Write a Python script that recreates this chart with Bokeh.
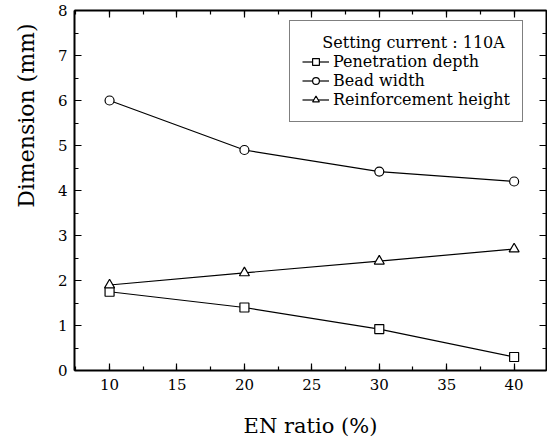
from bokeh.plotting import figure
from bokeh.models import (LinearAxis, FixedTicker, Legend, LegendItem, Range1d,
                          CustomLabelingPolicy, Title)
from bokeh.embed import file_html
from bokeh.resources import INLINE

# EN ratio (%) and measured bead dimensions (mm) at 110 A
en_ratio = [10, 20, 30, 40]
penetration_depth = [1.75, 1.40, 0.92, 0.30]
bead_width = [6.00, 4.90, 4.42, 4.20]
reinforcement_height = [1.90, 2.17, 2.43, 2.70]

x_ticks = [10, 15, 20, 25, 30, 35, 40]
y_ticks = [0, 1, 2, 3, 4, 5, 6, 7, 8]

FONT = "DejaVu Serif"
NB = "\u00a0"

p = figure(width=547, height=440, output_backend="svg", toolbar_location=None,
           x_range=Range1d(7.4, 42.4), y_range=Range1d(0, 8),
           min_border_left=71, min_border_right=1, min_border_top=10, min_border_bottom=70,
           background_fill_color="white", border_fill_color="white")
p.grid.visible = False
p.outline_line_color = None

x_ticker = FixedTicker(ticks=x_ticks, minor_ticks=[7.5 + 2.5 * i for i in range(14)])
y_ticker = FixedTicker(ticks=y_ticks, minor_ticks=[0.5 * i for i in range(17)])

# top/right frame axes carry ticks only
no_labels = CustomLabelingPolicy(
    code="for (const i of Array.from(indices)) { indices.unset(i) } return indices")

def style_axis(ax, labels=True):
    ax.axis_line_width = 2
    ax.axis_line_color = "black"
    ax.major_tick_in = 7
    ax.major_tick_out = 0
    ax.minor_tick_in = 4
    ax.minor_tick_out = 0
    ax.major_tick_line_width = 1.2
    ax.minor_tick_line_width = 1.2
    ax.major_tick_line_color = "black"
    ax.minor_tick_line_color = "black"
    ax.major_label_text_font = FONT
    ax.major_label_text_font_size = "15px"
    ax.major_label_text_color = "black"
    ax.axis_label_text_font = FONT
    ax.axis_label_text_font_style = "normal"
    ax.axis_label_text_color = "black"
    if not labels:
        ax.major_label_policy = no_labels
        ax.major_label_text_font_size = "0px"
        ax.major_label_standoff = 0
        ax.axis_label_standoff = 0

p.xaxis.ticker = x_ticker
p.yaxis.ticker = y_ticker
style_axis(p.xaxis[0])
style_axis(p.yaxis[0])
p.xaxis.major_label_standoff = 8
p.yaxis.major_label_standoff = 7

p.xaxis.axis_label = "EN ratio (%)"
p.xaxis.axis_label_text_font_size = "21px"
p.xaxis.axis_label_standoff = 21

# y title hangs from the top of the left margin, above the frame's middle
p.add_layout(Title(text="Dimension (mm)", align="right", offset=13,
                   vertical_align="top", standoff=27,
                   text_font=FONT, text_font_size="22px", text_font_style="normal",
                   text_color="black"), "left")

top_axis = LinearAxis(ticker=x_ticker)
right_axis = LinearAxis(ticker=y_ticker)
style_axis(top_axis, labels=False)
style_axis(right_axis, labels=False)
p.add_layout(top_axis, "above")
p.add_layout(right_axis, "right")

common = dict(line_color="black", line_width=1.2)
mk = dict(fill_color="white", line_color="black", line_width=1.2)

l1 = p.line(en_ratio, penetration_depth, **common)
s1 = p.scatter(en_ratio, penetration_depth, marker="square", size=9, **mk)
l2 = p.line(en_ratio, bead_width, **common)
s2 = p.scatter(en_ratio, bead_width, marker="circle", size=9, **mk)
l3 = p.line(en_ratio, reinforcement_height, **common)
s3 = p.scatter(en_ratio, reinforcement_height, marker="triangle", size=10, **mk)

legend = Legend(
    items=[LegendItem(label="Penetration depth", renderers=[l1, s1]),
           LegendItem(label="Bead width", renderers=[l2, s2]),
           LegendItem(label="Reinforcement height", renderers=[l3, s3])],
    title=NB * 4 + "Setting current : 110A",
    location=(215, 248),
    label_text_font=FONT, label_text_font_size="16px", label_text_color="black",
    title_text_font=FONT, title_text_font_size="16px", title_text_font_style="normal",
    title_text_color="black", title_standoff=0,
    glyph_width=27, glyph_height=17, label_height=17, label_standoff=4,
    spacing=0, padding=12, margin=0,
    border_line_color="black", border_line_width=1.5,
    background_fill_color="white", background_fill_alpha=1.0,
)
p.add_layout(legend, "center")

open("out.html", "w").write(file_html(p, INLINE))
